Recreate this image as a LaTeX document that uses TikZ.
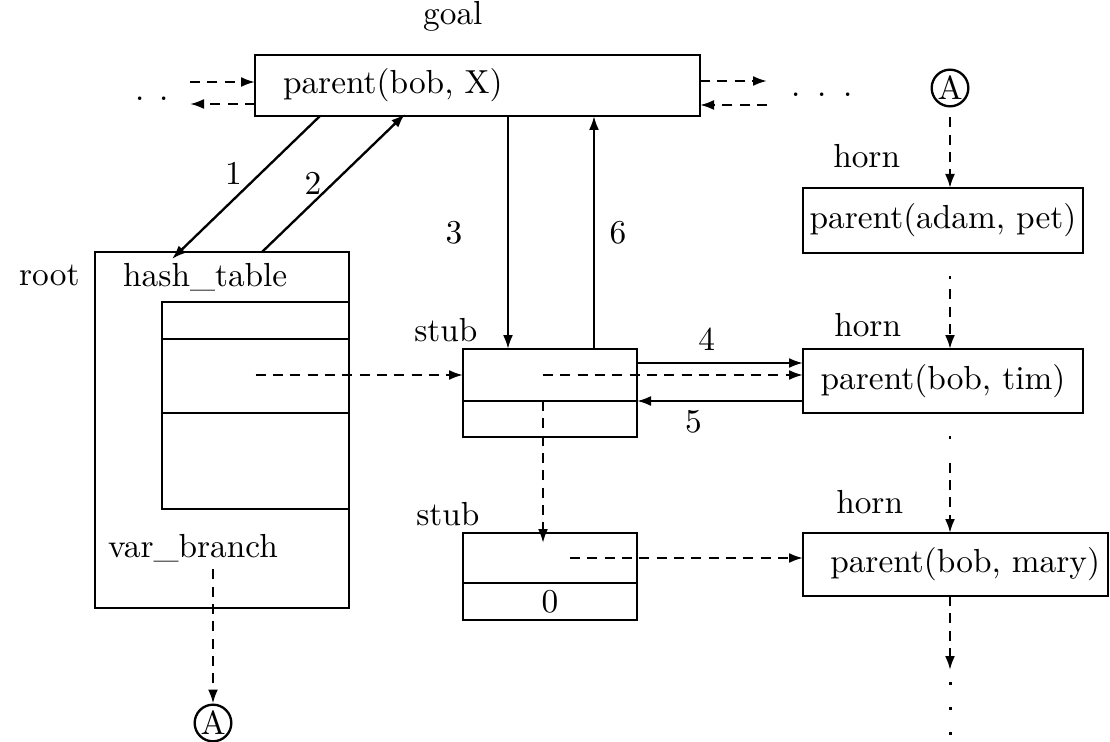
\documentclass[tikz,border=0pt]{standalone}
\usetikzlibrary{positioning,arrows.meta}

\begin{document}
\begin{tikzpicture}[x=0.3pt,y=-0.3pt,line width=0.7pt,>={Latex[length=4.2pt,width=3pt]},
	box/.style={draw,rectangle,inner sep=0pt,outer sep=0pt},
	dsh/.style={dash pattern=on 3pt off 2.2pt},
	chain/.style={dash pattern=on 0pt off 7pt on 0.9pt off #1 on 3pt off 2.2pt on 3pt off 2.2pt on 3pt off 2.2pt on 3pt off 2.2pt on 3pt off 2.2pt on 3pt off 2.2pt},
	dots/.style={line width=0.9pt,dash pattern=on 0.9pt off 6.6pt},
	circ/.style={draw,circle,minimum size=11pt,inner sep=0pt},
	lbl/.style={anchor=base west,inner sep=0pt}]
	\useasboundingbox (0,0) rectangle (1110,742);

	% goal
	\node[box,minimum width=133.5pt,minimum height=18.3pt,text width=116.7pt,inner xsep=8.4pt,align=left] (goal) at (477.5,85.5) {parent(bob, X)};
	\node[lbl] (goallbl) at (422,25) {goal};
	\coordinate (gw1) at (190,82);
	\coordinate (gw2) at (190,104);
	\coordinate (ge1) at (767,81);
	\coordinate (ge2) at (767,105);
	\draw[dsh,->] (gw1) -- (gw1 -| goal.west);
	\draw[dsh,->] (gw2 -| goal.west) -- (gw2);
	\draw[dsh,->] (goal.east |- ge1) -- (ge1);
	\draw[dsh,->] (ge2) -- (goal.east |- ge2);
	\node[lbl] (gwdots) at (134,101) {.\hspace{4.4pt}.};
	\node[lbl] (gedots) at (790,97) {.\hspace{5pt}.\hspace{5pt}.};

	% root with its hash table
	\node[box,minimum width=76.2pt,minimum height=106.8pt] (root) at (222,430) {};
	\node[lbl] (rootlbl) at (18,286) {root};
	\node[lbl] (hashlbl) at (122,287) {hash\_table};
	\node[box,minimum width=56.1pt,minimum height=11.1pt] (r1) at (255.5,320.5) {};
	\node[box,minimum width=56.1pt,minimum height=22.2pt,below=0pt of r1] (r2) {};
	\node[box,minimum width=56.1pt,minimum height=28.8pt,below=0pt of r2] (r3) {};
	\node[lbl] (vblbl) at (107,557) {var\_branch};
	\node[circ] (Abot) at (213,723) {A};
	\draw[dsh,->,shorten <=2pt] (vblbl.south -| Abot) -- (Abot.north);

	% stubs
	\node[box,minimum width=52.2pt,minimum height=15.6pt] (s1) at (550,375) {};
	\node[box,minimum width=52.2pt,minimum height=10.8pt,below=0pt of s1] (s1b) {};
	\node[box,minimum width=52.2pt,minimum height=15pt] (s2) at (550,558) {};
	\node[box,minimum width=52.2pt,minimum height=11.1pt,below=0pt of s2] (s2b) {0};
	\node[above right=-1.5pt and -18.3pt of s1.north west] (s1lbl) {stub};
	\node[above right=-1.5pt and -17.7pt of s2.north west] (s2lbl) {stub};

	% horn clauses
	\node[circ] (Atop) at (950,88) {A};
	\node[box,minimum width=84pt,minimum height=19.5pt] (h1) at (943,220.5) {parent(adam, pet)};
	\node[box,minimum width=84pt,minimum height=19.2pt] (h2) at (943,381) {parent(bob, tim)};
	\node[box,minimum width=91.5pt,minimum height=18.9pt,text width=86.7pt,inner xsep=2.4pt,align=right] (h3) at (955.5,564.5) {parent(bob, mary)};
	\node[above right=2.4pt and 5.4pt of h1.north west] (h1lbl) {horn};
	\node[above right=0pt and 5.7pt of h2.north west] (h2lbl) {horn};
	\node[above right=2.1pt and 6.3pt of h3.north west] (h3lbl) {horn};
	\draw[dsh,->,shorten <=3pt] (Atop) -- (Atop |- h1.north);
	\draw[chain=3pt,->] (Atop |- h1.south) -- (Atop |- h2.north);
	\draw[chain=7pt,->] (Atop |- h2.south) -- (Atop |- h3.north);
	\coordinate (hend) at (950,670);
	\coordinate (hdots) at (950,736);
	\draw[dsh,->] (Atop |- h3.south) -- (hend);
	\draw[dots] ([yshift=-3.6pt]hend) -- (hdots);

	% numbered steps
	\draw[->] ([xshift=19.5pt]goal.south west) -- ([xshift=23.1pt,yshift=-2.1pt]root.north west) node[pos=.4,left=2pt] {1};
	\draw[->] ([xshift=50.1pt]root.north west) -- ([xshift=45pt,yshift=0.6pt]goal.south west) node[pos=.5,left] {2};
	\coordinate (c3) at ([xshift=-12.6pt]s1.north);
	\coordinate (c6) at ([xshift=13.2pt]s1.north);
	\draw[->] (c3 |- goal.south) -- (c3) node[midway,left=10pt] {3};
	\draw[->] (c6) -- (c6 |- goal.south) node[midway,right=1pt] {6};
	\coordinate (c4) at ([yshift=3.6pt]s1.east);
	\draw[->] (c4) -- (c4 -| h2.west) node[pos=.42,above] {4};
	\draw[->] (s1.south east -| h2.west) -- (s1.south east) node[pos=.66,below=-1pt] {5};

	% pointers
	\draw[dsh,->] (r2.center |- s1.west) -- (s1.west);
	\draw[dsh,->] ([xshift=-2.1pt]s1.center) -- (s1.center -| h2.west);
	\draw[dsh,->] ([xshift=-2.1pt]s1b.north) -- ([xshift=-2.1pt,yshift=-3pt]s2.north);
	\draw[dsh,->] ([xshift=6pt]s2.center) -- (s2.center -| h3.west);
\end{tikzpicture}
\end{document}
